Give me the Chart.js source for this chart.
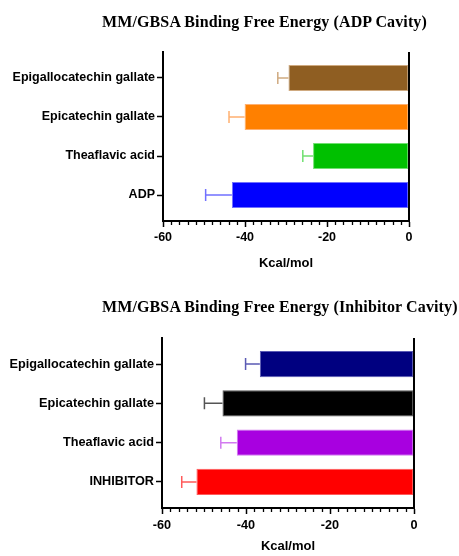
<!DOCTYPE html>
<html>
<head>
<meta charset="utf-8">
<script src="https://cdn.jsdelivr.net/npm/chart.js@4/dist/chart.umd.min.js"></script>
<style>
  body { margin: 0; background: #fff; }
  #page { position: relative; width: 459px; height: 556px; overflow: hidden; }
  .title {
    position: absolute; left: 102px; white-space: nowrap; letter-spacing: 0.12px;
    font: bold 16px 'Liberation Serif', 'Times New Roman', serif; color: #000; line-height: 16px;
  }
  canvas { position: absolute; left: 0; }
</style>
</head>
<body>
<div id="page">
  <canvas id="chart-adp" width="459" height="280" style="top:0"></canvas>
  <canvas id="chart-inh" width="459" height="276" style="top:280px"></canvas>
  <div class="title" style="top:14px">MM/GBSA Binding Free Energy (ADP Cavity)</div>
  <div class="title" style="top:299px">MM/GBSA Binding Free Energy (Inhibitor Cavity)</div>
</div>
<script>
// ===== DATA =====
const ADP_LABELS = ['Epigallocatechin gallate', 'Epicatechin gallate', 'Theaflavic acid', 'ADP'];
const ADP_VALUES = [-29.4, -40.1, -23.4, -43.2];
const ADP_ERRORS = [2.6, 3.8, 2.5, 6.4];
const ADP_COLORS = ['#8f5e22', '#ff8000', '#00c000', '#0000ff'];
const ADP_ERR_COLORS = ['#cfaa80', '#ffb070', '#70e070', '#7070ff'];

const INH_LABELS = ['Epigallocatechin gallate', 'Epicatechin gallate', 'Theaflavic acid', 'INHIBITOR'];
const INH_VALUES = [-36.7, -45.6, -42.2, -51.8];
const INH_ERRORS = [3.4, 4.3, 3.8, 3.5];
const INH_COLORS = ['#000080', '#000000', '#a800e0', '#ff0000'];
const INH_ERR_COLORS = ['#5a5ab4', '#555555', '#d27af0', '#ff5a5a'];

const X_TICKS = [-60, -40, -20, 0];
const MINOR_STEP = 2;
const AXIS_TITLE = 'Kcal/mol';

// one-sided error bars (towards more negative), zero line, minor x ticks
const extrasPlugin = {
  id: 'extras',
  afterDatasetsDraw(chart, args, opts) {
    const { ctx, chartArea } = chart;
    const xScale = chart.scales.x;
    const meta = chart.getDatasetMeta(0);
    ctx.save();
    ctx.lineWidth = 1.5;
    meta.data.forEach((bar, i) => {
      const end = xScale.getPixelForValue(opts.values[i] - opts.errors[i]);
      const cap = bar.height * 0.23;
      ctx.strokeStyle = opts.colors[i];
      ctx.beginPath();
      ctx.moveTo(bar.x, bar.y);
      ctx.lineTo(end, bar.y);
      ctx.moveTo(end, bar.y - cap);
      ctx.lineTo(end, bar.y + cap);
      ctx.stroke();
    });
    // zero line on top of the bars
    const zero = xScale.getPixelForValue(0);
    ctx.strokeStyle = '#000';
    ctx.lineWidth = 2;
    ctx.beginPath();
    ctx.moveTo(zero, chartArea.top);
    ctx.lineTo(zero, chartArea.bottom);
    ctx.stroke();
    // minor ticks
    ctx.lineWidth = 1.3;
    for (let v = xScale.min; v <= xScale.max; v += MINOR_STEP) {
      if (X_TICKS.includes(v)) continue;
      const px = Math.round(xScale.getPixelForValue(v)) + 0.5;
      ctx.beginPath();
      ctx.moveTo(px, chartArea.bottom);
      ctx.lineTo(px, chartArea.bottom + 4);
      ctx.stroke();
    }
    ctx.restore();
  }
};

function makeChart(id, labels, values, errors, colors, errColors, geo) {
  const ctx = document.getElementById(id).getContext('2d');
  const fontLabel = { family: "'Liberation Sans', Arial, sans-serif", weight: 'bold', size: geo.fontSize };
  return new Chart(ctx, {
    type: 'bar',
    data: {
      datasets: [{
        data: labels.map((l, i) => ({ x: values[i], y: i })),
        backgroundColor: colors,
        borderColor: errColors,
        borderWidth: 1,
        borderSkipped: false,
        categoryPercentage: 1,
        barPercentage: 0.665
      }]
    },
    plugins: [extrasPlugin],
    options: {
      indexAxis: 'y',
      responsive: false,
      animation: false,
      layout: { padding: { top: geo.top, right: geo.right, left: 0, bottom: 0 } },
      plugins: {
        legend: { display: false },
        tooltip: { enabled: false },
        extras: { values, errors, colors: errColors }
      },
      scales: {
        y: {
          type: 'linear',
          reverse: true,
          offset: false,
          min: -0.665,
          max: labels.length - 1 + 0.665,
          afterBuildTicks(scale) {
            scale.ticks = labels.map((l, i) => ({ value: i }));
          },
          afterFit(scale) { scale.width = geo.left; },
          ticks: {
            autoSkip: false,
            padding: 2,
            color: '#000',
            font: fontLabel,
            callback: v => labels[v]
          },
          grid: { offset: false, drawOnChartArea: false, tickLength: 6, tickColor: '#000', tickWidth: 1.5 },
          border: { display: true, color: '#000', width: 2 }
        },
        x: {
          type: 'linear',
          min: -60,
          max: 0,
          afterBuildTicks(scale) {
            scale.ticks = X_TICKS.map(v => ({ value: v }));
          },
          afterFit(scale) { scale.height = geo.xHeight; },
          ticks: { padding: geo.tickPad, color: '#000', font: fontLabel },
          grid: { drawOnChartArea: false, tickLength: 6, tickColor: '#000', tickWidth: 1.5 },
          border: { display: true, color: '#000', width: 2 },
          title: {
            display: true,
            text: AXIS_TITLE,
            color: '#000',
            font: { family: "'Liberation Sans', Arial, sans-serif", weight: 'bold', size: 13 },
            padding: { top: 4, bottom: geo.titlePad }
          }
        }
      }
    }
  });
}

makeChart('chart-adp', ADP_LABELS, ADP_VALUES, ADP_ERRORS, ADP_COLORS, ADP_ERR_COLORS,
  { top: 52, right: 50, left: 163, xHeight: 59, fontSize: 12.5, tickPad: 3, titlePad: 9 });
makeChart('chart-inh', INH_LABELS, INH_VALUES, INH_ERRORS, INH_COLORS, INH_ERR_COLORS,
  { top: 58, right: 45, left: 162, xHeight: 48, fontSize: 12.7, tickPad: 4, titlePad: 1.5 });
</script>
</body>
</html>
